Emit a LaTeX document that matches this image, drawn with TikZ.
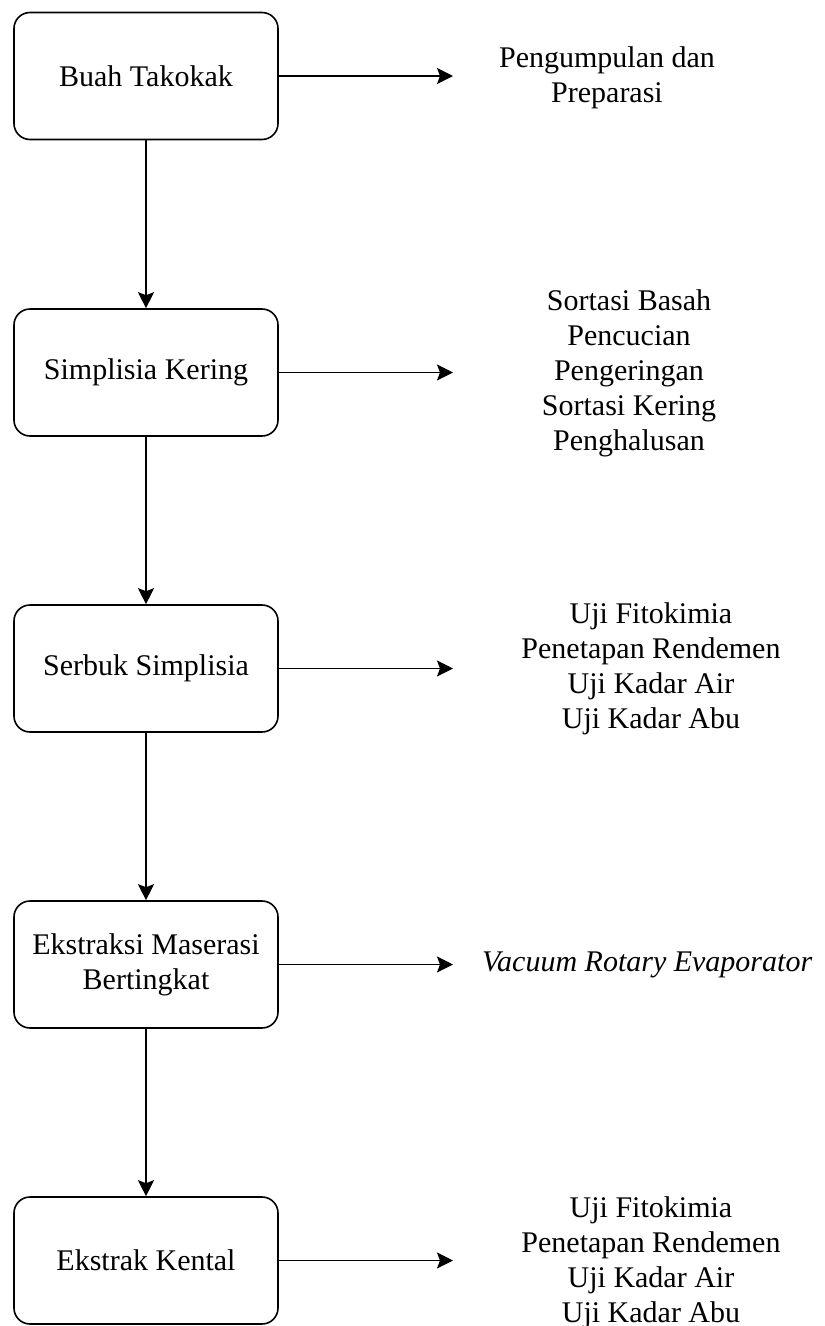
\documentclass[tikz,border=0pt]{standalone}
\usepackage{fontspec}
\setmainfont{Liberation Serif}
\usetikzlibrary{arrows.meta}
\begin{document}
\begin{tikzpicture}[x=1pt,y=-1pt,
  stepbox/.style={draw, line width=1.6pt, rounded corners=16pt, minimum width=264pt, minimum height=127pt, inner sep=0pt, align=center, font=\fontsize{30}{35}\selectfont},
  lbl/.style={align=center, inner sep=0pt, font=\fontsize{30}{35}\selectfont},
  arr/.style={line width=1.6pt, -{Stealth[length=16pt,width=16pt,inset=3pt]}}]
\useasboundingbox (0,0) rectangle (825,1326);
\node[stepbox] (b1) at (146,76) {Buah Takokak};
\node[stepbox] (b2) at (146,372.5) {Simplisia Kering};
\node[stepbox] (b3) at (146,668.5) {Serbuk Simplisia};
\node[stepbox] (b4) at (146,964.5) {Ekstraksi Maserasi\\Bertingkat};
\node[stepbox] (b5) at (146,1260.5) {Ekstrak Kental};
\coordinate (t1) at (453,76);
\coordinate (t2) at (453,372.5);
\coordinate (t3) at (453,668.5);
\coordinate (t4) at (453,964.5);
\coordinate (t5) at (453,1260.5);
\node[lbl] (l1) at (607,78) {Pengumpulan dan\\Preparasi};
\node[lbl] (l2) at (629,373) {Sortasi Basah\\Pencucian\\Pengeringan\\Sortasi Kering\\Penghalusan};
\node[lbl] (l3) at (651,668.5) {Uji Fitokimia\\Penetapan Rendemen\\Uji Kadar Air\\Uji Kadar Abu};
\node[lbl, anchor=west] (l4) at (482,964.5) {\itshape Vacuum Rotary Evaporator};
\node[lbl] (l5) at (651,1263) {Uji Fitokimia\\Penetapan Rendemen\\Uji Kadar Air\\Uji Kadar Abu};
\draw[arr] (b1.east) -- (t1);
\draw[arr] (b2.east) -- (t2);
\draw[arr] (b3.east) -- (t3);
\draw[arr] (b4.east) -- (t4);
\draw[arr] (b5.east) -- (t5);
\draw[arr] (b1.south) -- (b2.north);
\draw[arr] (b2.south) -- (b3.north);
\draw[arr] (b3.south) -- (b4.north);
\draw[arr] (b4.south) -- (b5.north);
\end{tikzpicture}
\end{document}
